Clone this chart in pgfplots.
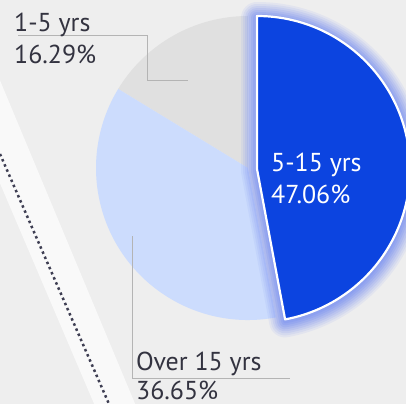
\documentclass[border=0pt]{standalone}
\usepackage{fontspec}
\setmainfont{PT Sans}
\usepackage{pgfplots}
\usepackage{pgfplotstable}
\pgfplotsset{compat=1.18}

\definecolor{bg}{HTML}{EEEEEE}
\definecolor{band}{HTML}{F9F9F9}
\definecolor{dotc}{HTML}{3E3E52}
\definecolor{blueS}{HTML}{0C44E0}
\definecolor{lightS}{HTML}{CCDCFD}
\definecolor{grayS}{HTML}{E0E0E0}
\definecolor{glow}{HTML}{7B92F2}
\definecolor{txt}{HTML}{333340}
\definecolor{lead}{HTML}{B4B4B4}

\pgfplotstableread{
label value
{5-15 yrs} 47.06
{Over 15 yrs} 36.65
{1-5 yrs} 16.29
}\piedata

\begin{document}
\begin{tikzpicture}
\pgfplotstablegetelem{0}{value}\of\piedata \xdef\va{\pgfplotsretval}
\pgfplotstablegetelem{1}{value}\of\piedata \xdef\vb{\pgfplotsretval}
\pgfplotstablegetelem{2}{value}\of\piedata \xdef\vc{\pgfplotsretval}
\pgfmathsetmacro\aA{90-3.6*\va}\xdef\aA{\aA}
\pgfmathsetmacro\aB{\aA-3.6*\vb}\xdef\aB{\aB}
\pgfmathsetmacro\aC{\aB+360}\xdef\aC{\aC}
\begin{axis}[at={(0,0)}, anchor=south west, scale only axis,
  width=406bp, height=404bp, xmin=0, xmax=406, ymin=0, ymax=404,
  y dir=reverse, hide axis, clip=true]
% background
\addplot[fill=bg, draw=none] coordinates {(-5,-5) (411,-5) (411,409) (-5,409)} -- cycle;
\addplot[fill=band, draw=none] coordinates {(-1,78) (136,406) (95,406) (-1,181)} -- cycle;
\addplot[dotc, line width=2.5bp, dash pattern=on 2.5bp off 3.1bp] coordinates {(0,154) (109,404)};
% slices
\fill[grayS] (axis cs:248,168) -- ++(90:152bp) arc[start angle=90, end angle=\aC, radius=152bp] -- cycle;
\fill[lightS] (axis cs:248,168) -- ++(\aA:152bp) arc[start angle=\aA, end angle=\aB, radius=152bp] -- cycle;
% leader lines
\addplot[lead, line width=1bp] coordinates {(18,36) (147,36) (147,80) (188,80)};
\addplot[lead, line width=1bp] coordinates {(132,236) (132,378) (290,378)};
% glow
\draw[glow, opacity=0.10, line width=32bp, line join=round] (axis cs:257,171) -- ++(90:153bp) arc[start angle=90, end angle=\aA, radius=153bp] -- cycle;
\draw[glow, opacity=0.12, line width=28bp, line join=round] (axis cs:257,171) -- ++(90:153bp) arc[start angle=90, end angle=\aA, radius=153bp] -- cycle;
\draw[glow, opacity=0.14, line width=24bp, line join=round] (axis cs:257,171) -- ++(90:153bp) arc[start angle=90, end angle=\aA, radius=153bp] -- cycle;
\draw[glow, opacity=0.17, line width=20bp, line join=round] (axis cs:257,171) -- ++(90:153bp) arc[start angle=90, end angle=\aA, radius=153bp] -- cycle;
\draw[glow, opacity=0.20, line width=16bp, line join=round] (axis cs:257,171) -- ++(90:153bp) arc[start angle=90, end angle=\aA, radius=153bp] -- cycle;
\draw[glow, opacity=0.24, line width=12bp, line join=round] (axis cs:257,171) -- ++(90:153bp) arc[start angle=90, end angle=\aA, radius=153bp] -- cycle;
\draw[glow, opacity=0.28, line width=8bp, line join=round] (axis cs:257,171) -- ++(90:153bp) arc[start angle=90, end angle=\aA, radius=153bp] -- cycle;
\draw[glow, opacity=0.30, line width=4bp, line join=round] (axis cs:257,171) -- ++(90:153bp) arc[start angle=90, end angle=\aA, radius=153bp] -- cycle;
\draw[white, line width=2.2bp, fill=blueS, line join=round] (axis cs:257,169) -- ++(90:153bp) arc[start angle=90, end angle=\aA, radius=153bp] -- cycle;
% labels
\node[anchor=base west, inner sep=0pt, font=\fontsize{26}{30}\selectfont, text=txt] at (axis cs:14,31.5) {1-5 yrs};
\node[anchor=base west, inner sep=0pt, font=\fontsize{26}{30}\selectfont, text=txt] at (axis cs:14,63) {\vc\%};
\node[anchor=base west, inner sep=0pt, font=\fontsize{26}{30}\selectfont, text=white] at (axis cs:271,171) {5-15 yrs};
\node[anchor=base west, inner sep=0pt, font=\fontsize{26}{30}\selectfont, text=white] at (axis cs:271,203) {\va\%};
\node[anchor=base west, inner sep=0pt, font=\fontsize{26}{30}\selectfont, text=txt] at (axis cs:136,370.5) {Over 15 yrs};
\node[anchor=base west, inner sep=0pt, font=\fontsize{26}{30}\selectfont, text=txt] at (axis cs:136,399.5) {\vb\%};
\end{axis}
\end{tikzpicture}
\end{document}
